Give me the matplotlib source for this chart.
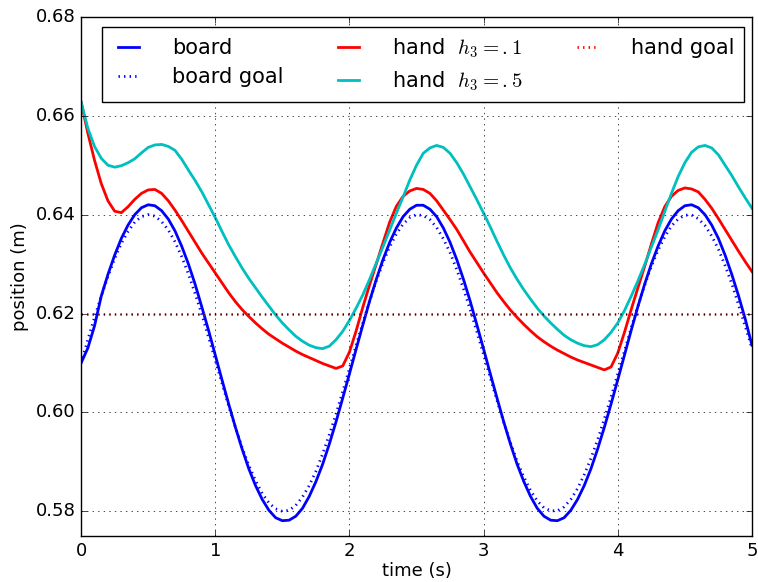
import numpy as np
import matplotlib
matplotlib.use('Agg')
import matplotlib.pyplot as plt

# time samples (s), every 0.05 s
t = np.round(np.arange(0, 5.001, 0.05), 2)

# board position and its goal trajectory (m)
board = [0.6100, 0.6130, 0.6175, 0.6235, 0.6279, 0.6318, 0.6352, 0.6379, 0.6400, 0.6414,
         0.6420, 0.6418, 0.6408, 0.6391, 0.6367, 0.6336, 0.6300, 0.6259, 0.6213, 0.6166,
         0.6116, 0.6066, 0.6017, 0.5970, 0.5926, 0.5886, 0.5852, 0.5824, 0.5802, 0.5787,
         0.5781, 0.5782, 0.5790, 0.5806, 0.5830, 0.5860, 0.5895, 0.5936, 0.5981, 0.6029,
         0.6078, 0.6128, 0.6177, 0.6225, 0.6269, 0.6309, 0.6344, 0.6373, 0.6396, 0.6411,
         0.6419, 0.6419, 0.6411, 0.6396, 0.6373, 0.6344, 0.6309, 0.6269, 0.6225, 0.6177,
         0.6128, 0.6078, 0.6029, 0.5981, 0.5936, 0.5895, 0.5860, 0.5830, 0.5806, 0.5790,
         0.5782, 0.5781, 0.5787, 0.5802, 0.5824, 0.5852, 0.5886, 0.5926, 0.5970, 0.6017,
         0.6066, 0.6116, 0.6166, 0.6214, 0.6259, 0.6300, 0.6336, 0.6367, 0.6391, 0.6408,
         0.6418, 0.6420, 0.6414, 0.6400, 0.6379, 0.6352, 0.6318, 0.6279, 0.6236, 0.6189,
         0.6136]
board_goal = [0.6100, 0.6147, 0.6192, 0.6235, 0.6275, 0.6311, 0.6342, 0.6366, 0.6385, 0.6396,
              0.6400, 0.6397, 0.6386, 0.6369, 0.6345, 0.6315, 0.6280, 0.6240, 0.6198, 0.6152,
              0.6106, 0.6059, 0.6013, 0.5970, 0.5929, 0.5893, 0.5862, 0.5836, 0.5817, 0.5805,
              0.5800, 0.5802, 0.5812, 0.5829, 0.5852, 0.5881, 0.5916, 0.5955, 0.5997, 0.6042,
              0.6089, 0.6136, 0.6181, 0.6225, 0.6266, 0.6303, 0.6335, 0.6361, 0.6381, 0.6394,
              0.6400, 0.6398, 0.6390, 0.6374, 0.6351, 0.6323, 0.6289, 0.6250, 0.6208, 0.6163,
              0.6117, 0.6070, 0.6024, 0.5980, 0.5939, 0.5901, 0.5869, 0.5842, 0.5821, 0.5807,
              0.5801, 0.5801, 0.5809, 0.5824, 0.5846, 0.5874, 0.5907, 0.5945, 0.5987, 0.6031,
              0.6078, 0.6124, 0.6171, 0.6215, 0.6257, 0.6295, 0.6328, 0.6355, 0.6377, 0.6391,
              0.6399, 0.6399, 0.6392, 0.6378, 0.6357, 0.6330, 0.6297, 0.6260, 0.6218, 0.6174,
              0.6130]

# hand position for two values of h3 (m)
hand_h1 = [0.6628, 0.6565, 0.6510, 0.6463, 0.6428, 0.6407, 0.6404, 0.6416, 0.6431, 0.6443,
           0.6450, 0.6451, 0.6443, 0.6428, 0.6409, 0.6388, 0.6366, 0.6344, 0.6322, 0.6302,
           0.6282, 0.6262, 0.6242, 0.6224, 0.6208, 0.6194, 0.6181, 0.6169, 0.6158, 0.6149,
           0.6140, 0.6132, 0.6124, 0.6117, 0.6111, 0.6105, 0.6099, 0.6094, 0.6089, 0.6094,
           0.6122, 0.6165, 0.6213, 0.6258, 0.6300, 0.6343, 0.6385, 0.6417, 0.6437, 0.6448,
           0.6453, 0.6451, 0.6443, 0.6428, 0.6409, 0.6390, 0.6370, 0.6347, 0.6324, 0.6303,
           0.6282, 0.6262, 0.6242, 0.6224, 0.6207, 0.6192, 0.6178, 0.6165, 0.6153, 0.6143,
           0.6134, 0.6126, 0.6119, 0.6112, 0.6106, 0.6101, 0.6096, 0.6091, 0.6086, 0.6092,
           0.6120, 0.6162, 0.6208, 0.6252, 0.6295, 0.6340, 0.6383, 0.6416, 0.6437, 0.6449,
           0.6454, 0.6452, 0.6446, 0.6431, 0.6413, 0.6392, 0.6370, 0.6348, 0.6326, 0.6305,
           0.6285]
hand_h5 = [0.6628, 0.6575, 0.6538, 0.6514, 0.6500, 0.6496, 0.6499, 0.6505, 0.6513, 0.6525,
           0.6536, 0.6541, 0.6542, 0.6538, 0.6530, 0.6512, 0.6490, 0.6469, 0.6446, 0.6420,
           0.6394, 0.6366, 0.6339, 0.6315, 0.6292, 0.6271, 0.6252, 0.6233, 0.6215, 0.6197,
           0.6181, 0.6167, 0.6154, 0.6144, 0.6136, 0.6131, 0.6129, 0.6134, 0.6147, 0.6164,
           0.6186, 0.6211, 0.6238, 0.6269, 0.6302, 0.6335, 0.6369, 0.6403, 0.6436, 0.6470,
           0.6500, 0.6524, 0.6535, 0.6540, 0.6536, 0.6524, 0.6505, 0.6482, 0.6456, 0.6430,
           0.6403, 0.6375, 0.6346, 0.6318, 0.6292, 0.6269, 0.6248, 0.6229, 0.6211, 0.6195,
           0.6181, 0.6168, 0.6156, 0.6147, 0.6140, 0.6135, 0.6133, 0.6137, 0.6147, 0.6162,
           0.6181, 0.6206, 0.6235, 0.6266, 0.6299, 0.6334, 0.6369, 0.6406, 0.6443, 0.6477,
           0.6505, 0.6526, 0.6537, 0.6540, 0.6535, 0.6521, 0.6500, 0.6479, 0.6456, 0.6434,
           0.6413]
hand_goal = 0.62

plt.style.use('classic')
fig = plt.figure(figsize=(7.58, 5.82), dpi=100, facecolor='white')
ax = fig.add_axes([0.107, 0.079, 0.885, 0.892])

ax.plot(t, board, color='b', lw=2, label='board')
ax.plot(t, board_goal, color='b', lw=2, ls=':', label='board goal')
ax.plot(t, hand_h1, color='r', lw=2, label=r'hand  $h_3=.1$')
ax.plot(t, hand_h5, color='c', lw=2, label=r'hand  $h_3=.5$')
ax.plot(t, [hand_goal] * len(t), color='r', lw=2, ls=':', label='hand goal')

ax.set_xlim(0, 5)
ax.set_ylim(0.575, 0.68)
ax.set_xticks([0, 1, 2, 3, 4, 5])
ax.set_yticks([0.58, 0.60, 0.62, 0.64, 0.66, 0.68])
ax.set_yticklabels(['0.58', '0.60', '0.62', '0.64', '0.66', '0.68'])
ax.tick_params(labelsize=13)
ax.grid(True, color='k', ls=':')
ax.set_xlabel('time (s)', fontsize=13, labelpad=2)
ax.set_ylabel('position (m)', fontsize=13)

ax.legend(loc='upper center', bbox_to_anchor=(0.51, 0.981), borderaxespad=0, ncol=3,
          fontsize=15, handlelength=1.6, handletextpad=1.3, columnspacing=2.3, numpoints=2,
          borderpad=0.45, labelspacing=0.45, fancybox=False)

fig.savefig('out.png', dpi=100, facecolor='white')
